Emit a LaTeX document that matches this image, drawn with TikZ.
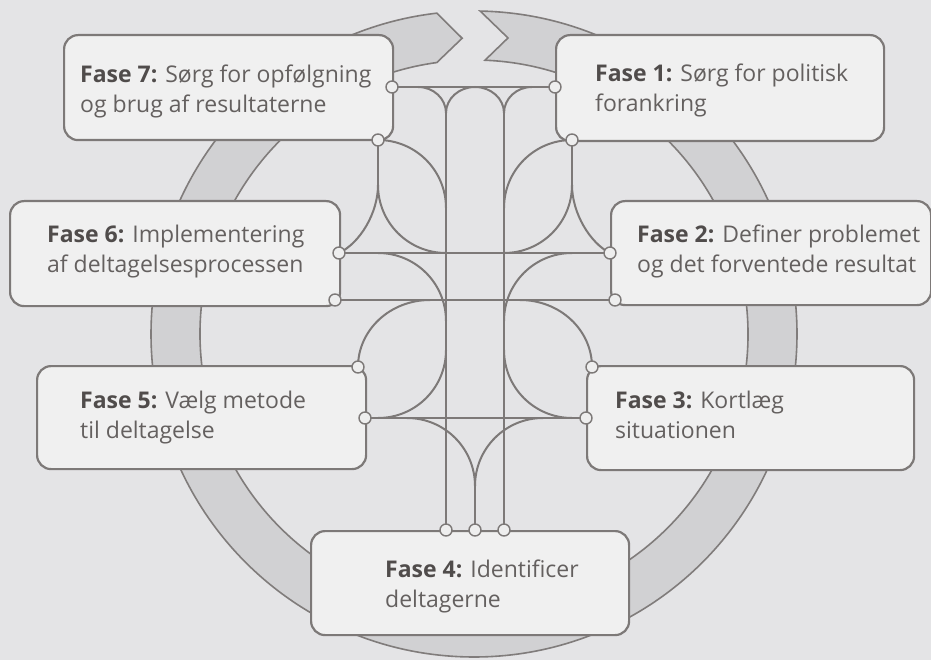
\documentclass[tikz,border=0pt]{standalone}
\usepackage{fontspec}
\setmainfont{Open Sans}
\definecolor{bg}{RGB}{228,228,230}
\definecolor{boxfill}{RGB}{240,240,240}
\definecolor{ringfill}{RGB}{209,209,211}
\definecolor{ringline}{RGB}{128,124,123}
\definecolor{linec}{RGB}{125,121,120}
\definecolor{dotfill}{RGB}{238,238,238}
\definecolor{txt}{RGB}{100,96,95}
\definecolor{txtb}{RGB}{80,76,75}
\newcommand{\fase}[1]{\textcolor{txtb}{\textbf{#1}}}
\begin{document}
\begin{tikzpicture}[x=1pt,y=1pt,
  box/.style={draw=linec, line width=2.2pt, fill=boxfill, rounded corners=14pt, anchor=north west, inner sep=0pt},
  label/.style={anchor=base west, inner sep=0pt, text=txt, font=\fontsize{23}{30}\selectfont},
  dot/.style={circle, draw=linec, fill=dotfill, line width=1.4pt, minimum size=12pt, inner sep=0pt},
  conn/.style={draw=linec, line width=2pt},
  ringst/.style={draw=ringline, fill=ringfill, line width=1.6pt}]
\useasboundingbox (0,0) rectangle (931,-660);
\fill[bg] (0,0) rectangle (931,-660);

% circular arrow
\begin{scope}[shift={(474,-334)}]
\draw[ringst] (88.9:323) arc[start angle=88.9, end angle=-263.4, radius=323]
  -- (92.3:296) -- (97.8:274) arc[start angle=-262.2, end angle=87.7, radius=274]
  -- (83.45:298) -- cycle;
\end{scope}

% boxes
\node[box, minimum width=329pt, minimum height=105pt] (b7) at (63,-34) {};
\node[box, minimum width=328pt, minimum height=106pt] (b1) at (555,-34) {};
\node[box, minimum width=330pt, minimum height=105pt] (b6) at (9,-200) {};
\node[box, minimum width=320pt, minimum height=104pt] (b2) at (610,-200) {};
\node[box, minimum width=329pt, minimum height=103pt] (b5) at (36,-365) {};
\node[box, minimum width=327pt, minimum height=104pt] (b3) at (586,-365) {};
\node[box, minimum width=318pt, minimum height=104pt] (b4) at (310,-530) {};

% texts
\node[label] (t7) at (80,-83) {\begin{tabular}[t]{@{}l@{}}\fase{Fase 7:} Sørg for opfølgning\\ og brug af resultaterne\end{tabular}};
\node[label] (t1) at (595,-82) {\begin{tabular}[t]{@{}l@{}}\fase{Fase 1:} Sørg for politisk\\ forankring\end{tabular}};
\node[label] (t6) at (47,-243) {\begin{tabular}[t]{@{}l@{}}\fase{Fase 6:} Implementering\\ af deltagelsesprocessen\end{tabular}};
\node[label] (t2) at (637,-243) {\begin{tabular}[t]{@{}l@{}}\fase{Fase 2:} Definer problemet\\ og det forventede resultat\end{tabular}};
\node[label] (t5) at (80,-408) {\begin{tabular}[t]{@{}l@{}}\fase{Fase 5:} Vælg metode\\ til deltagelse\end{tabular}};
\node[label] (t3) at (615,-408) {\begin{tabular}[t]{@{}l@{}}\fase{Fase 3:} Kortlæg\\ situationen\end{tabular}};
\node[label] (t4) at (385,-577) {\begin{tabular}[t]{@{}l@{}}\fase{Fase 4:} Identificer\\ deltagerne\end{tabular}};

% connection points
\coordinate (c7r) at (392,-87);  \coordinate (c1l) at (555,-87);
\coordinate (c7b) at (378,-140); \coordinate (c1b) at (572,-140);
\coordinate (c6r) at (339,-253); \coordinate (c2l) at (610,-253);
\coordinate (c6b) at (335,-300); \coordinate (c2b) at (615,-300);
\coordinate (c5t) at (358,-367); \coordinate (c3t) at (592,-367);
\coordinate (c5r) at (365,-418); \coordinate (c3l) at (586,-418);
\coordinate (c4a) at (446,-530); \coordinate (c4b) at (475,-530); \coordinate (c4c) at (504,-530);

% junctions
\coordinate (tl) at (418,-87);  \coordinate (tr) at (532,-87);
\coordinate (vl) at (446,-113); \coordinate (vr) at (504,-113);
\coordinate (tm) at (475,-87);
\coordinate (kl) at (378,-185); \coordinate (kr) at (572,-185);
\coordinate (al) at (446,-208); \coordinate (ar) at (504,-208);
\coordinate (bl) at (446,-253); \coordinate (br) at (504,-253);
\coordinate (dl0) at (378,-253); \coordinate (dr0) at (572,-253);
\coordinate (dl) at (446,-321); \coordinate (dr) at (504,-321);
\coordinate (fl) at (446,-350); \coordinate (fr) at (504,-350);
\coordinate (fl1) at (378,-418); \coordinate (fr1) at (572,-418);
\coordinate (el) at (430,-300); \coordinate (er) at (520,-300);
\coordinate (gl) at (407,-418); \coordinate (gr) at (543,-418);
\coordinate (gm) at (475,-486);

% connectors
\path[conn] (c7r) -- (c1l);
\path[conn] (tl) .. controls (433.5,-87) and (446,-98.6) .. (vl);
\path[conn] (vl) .. controls (446,-98.6) and (459,-87) .. (tm) .. controls (491,-87) and (504,-98.6) .. (vr);
\path[conn] (vr) .. controls (504,-98.6) and (516.5,-87) .. (tr);
\path[conn] (vl) -- (c4a);
\path[conn] (vr) -- (c4c);
\path[conn] (c7b) -- (kl);
\path[conn] (c1b) -- (kr);
\path[conn] (c7b) .. controls (415.6,-140) and (446,-170.4) .. (al);
\path[conn] (c1b) .. controls (534.4,-140) and (504,-170.4) .. (ar);
\path[conn] (kl) .. controls (378,-222.6) and (408.4,-253) .. (bl);
\path[conn] (kr) .. controls (572,-222.6) and (541.6,-253) .. (br);
\path[conn] (kl) .. controls (378,-213) and (360,-243) .. (c6r);
\path[conn] (kr) .. controls (572,-213) and (590,-243) .. (c2l);
\path[conn] (c6r) -- (c2l);
\path[conn] (c6b) -- (c2b);
\path[conn] (c5r) -- (c3l);
\path[conn] (dl0) .. controls (415.6,-253) and (446,-283.4) .. (dl);
\path[conn] (dr0) .. controls (534.4,-253) and (504,-283.4) .. (dr);
\path[conn] (fl) .. controls (446,-387.6) and (415.6,-418) .. (fl1);
\path[conn] (fr) .. controls (504,-387.6) and (534.4,-418) .. (fr1);
\path[conn] (c5t) .. controls (358,-330) and (390,-300) .. (el);
\path[conn] (c3t) .. controls (592,-330) and (560,-300) .. (er);
\path[conn] (gl) .. controls (444.6,-418) and (475,-448.4) .. (gm);
\path[conn] (gr) .. controls (505.4,-418) and (475,-448.4) .. (gm);
\path[conn] (gm) -- (c4b);

% dots
\foreach \p in {c7r,c1l,c7b,c1b,c6r,c2l,c6b,c2b,c5t,c3t,c5r,c3l,c4a,c4b,c4c}
  \node[dot] (d\p) at (\p) {};
\end{tikzpicture}
\end{document}
